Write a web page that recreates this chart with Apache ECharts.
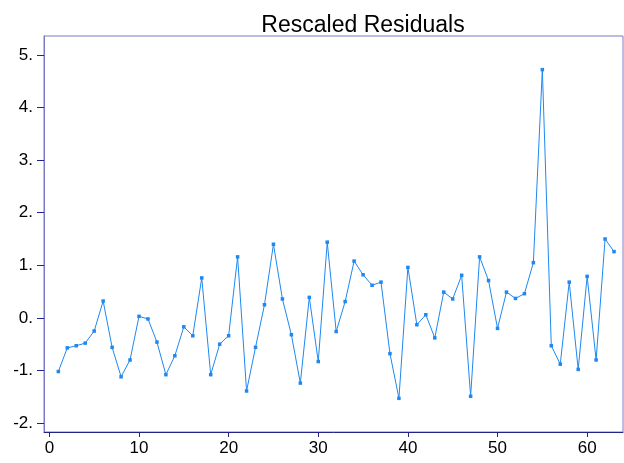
<!DOCTYPE html>
<html>
<head>
<meta charset="utf-8">
<script src="https://cdn.jsdelivr.net/npm/echarts@6/dist/echarts.min.js"></script>
<style>
  html, body { margin: 0; padding: 0; background: #fff; }
  #main { width: 624px; height: 463px; }
</style>
</head>
<body>
<div id="main"></div>
<script>
// observation number 1..63
var obs = [];
for (var i = 1; i <= 63; i++) obs.push(i);

// rescaled residuals
var residuals = [
  -1.02, -0.57, -0.53, -0.48, -0.25, 0.32, -0.56, -1.12, -0.80, 0.03,
  -0.02, -0.46, -1.08, -0.72, -0.17, -0.34, 0.76, -1.08, -0.50, -0.34,
  1.16, -1.39, -0.56, 0.25, 1.40, 0.36, -0.32, -1.24, 0.39, -0.83,
  1.44, -0.26, 0.31, 1.08, 0.82, 0.62, 0.68, -0.68, -1.53, 0.96,
  -0.13, 0.06, -0.38, 0.49, 0.36, 0.81, -1.49, 1.16, 0.71, -0.20,
  0.49, 0.37, 0.46, 1.05, 4.72, -0.53, -0.88, 0.68, -0.98, 0.79,
  -0.80, 1.50, 1.26
];

var yTicks = [-2, -1, 0, 1, 2, 3, 4, 5];
var xTicks = [0, 10, 20, 30, 40, 50, 60];

var myChart = echarts.init(document.getElementById("main"));

var option = {
  animation: false,
  title: {
    text: "Rescaled Residuals",
    left: 358,
    top: 9,
    textAlign: "center",
    textStyle: {
      fontFamily: "Liberation Sans",
      fontWeight: "normal",
      fontSize: 23,
      color: "#000"
    }
  },
  grid: {
    left: 44,
    top: 36,
    right: 1,
    bottom: 31,
    show: true,
    borderColor: "#7a7ac8",
    borderWidth: 1
  },
  xAxis: {
    type: "value",
    min: -0.6,
    max: 64,
    splitLine: { show: false },
    axisLine: { show: true, onZero: false, lineStyle: { color: "#23238c", width: 1 } },
    axisTick: {
      show: true,
      length: 5,
      customValues: xTicks,
      lineStyle: { color: "#23238c" }
    },
    axisLabel: {
      customValues: xTicks,
      margin: 8,
      fontFamily: "Liberation Sans",
      fontSize: 17,
      color: "#000"
    }
  },
  yAxis: {
    type: "value",
    min: -2.17,
    max: 5.36,
    splitLine: { show: false },
    axisLine: { show: true, onZero: false, lineStyle: { color: "#7a7ac8", width: 1 } },
    axisTick: {
      show: true,
      length: 7,
      customValues: yTicks,
      lineStyle: { color: "#23238c" }
    },
    axisLabel: {
      customValues: yTicks,
      margin: 11,
      fontFamily: "Liberation Sans",
      fontSize: 17,
      color: "#000",
      formatter: function (v) { return v + "."; }
    }
  },
  series: [
    {
      type: "line",
      data: obs.map(function (x, k) { return [x, residuals[k]]; }),
      symbol: "rect",
      symbolSize: 3.5,
      showSymbol: true,
      lineStyle: { color: "#1e88f0", width: 1 },
      itemStyle: { color: "#1e88f0" }
    }
  ]
};

myChart.setOption(option);
</script>
</body>
</html>
